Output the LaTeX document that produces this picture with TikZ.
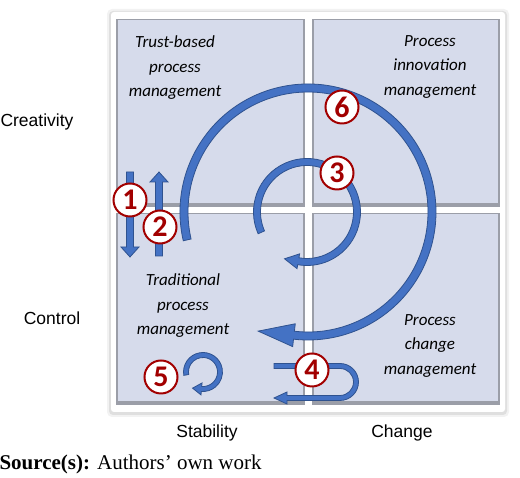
\documentclass[tikz,border=0pt]{standalone}
\usepackage{fontspec}
\newfontfamily\calfont{Carlito}
\newfontfamily\arialfont{Liberation Sans}
\newfontfamily\timesfont{Liberation Serif}
\usetikzlibrary{calc}
\definecolor{panelfill}{RGB}{214,219,235}
\definecolor{paneledge}{RGB}{155,158,168}
\definecolor{arrowfill}{RGB}{68,114,196}
\definecolor{arrowline}{RGB}{47,82,143}
\definecolor{badgered}{RGB}{162,0,0}
\tikzset{
  quadtext/.style={align=center, font=\calfont\itshape\fontsize{17}{24.5}\selectfont},
  axislabel/.style={font=\arialfont\fontsize{17.5}{20}\selectfont},
  badge/.style={circle, draw=badgered, line width=2pt, fill=white, minimum size=33pt,
    inner sep=0pt, text=badgered, font=\calfont\bfseries\fontsize{30}{30}\selectfont},
  bluearrow/.style={fill=arrowfill, draw=arrowline, line width=0.8pt},
}

\begin{document}
\begin{tikzpicture}[x=1pt,y=1pt]
  \useasboundingbox (0,0) rectangle (520,478);
  % frame with soft shadow
  \fill[black, opacity=0.05, rounded corners=5pt] (107,61) rectangle (509,469);
  \fill[black, opacity=0.08, rounded corners=4pt] (109,63) rectangle (507,467);
  \fill[white, rounded corners=3pt] (111,66) rectangle (505,466);
  % quadrants
  \fill[paneledge] (116,271) rectangle (305,459);
  \fill[panelfill] (117.5,275) rectangle (302.5,457.5);
  \fill[paneledge] (312,271) rectangle (500,459);
  \fill[panelfill] (313.5,275) rectangle (497.5,457.5);
  \fill[paneledge] (116,73) rectangle (305,265);
  \fill[panelfill] (117.5,77) rectangle (302.5,263.5);
  \fill[paneledge] (312,73) rectangle (500,265);
  \fill[panelfill] (313.5,77) rectangle (497.5,263.5);

  \node[quadtext] (trust) at (175,410) {Trust-based\\process\\management};
  \node[quadtext] (innov) at (430,411) {Process\\innovation\\management};
  \node[quadtext] (trad) at (183,172) {Traditional\\process\\management};
  \node[quadtext] (chmgmt) at (430,132) {Process\\change\\management};

  \node[axislabel] (creat) at (37,356) {Creativity};
  \node[axislabel] (contr) at (52,160) {Control};
  \node[axislabel] (stab) at (207,45) {Stability};
  \node[axislabel] (chg) at (402,45) {Change};
  \node[anchor=base west, font=\timesfont\fontsize{21}{24}\selectfont] (src) at (-4,8)
    {\textbf{Source(s):} Authors’ own work};

  \coordinate (C) at (308,266);
  \coordinate (C3) at (307,266);
  \coordinate (C5) at (203,106);

  % 1 and 2
  \filldraw[bluearrow] (126.5,306) -- (133.5,306) -- (133.5,231) -- (139,231) -- (130,221)
    -- (121,231) -- (126.5,231) -- cycle;
  \filldraw[bluearrow] (155.5,222) -- (162.5,222) -- (162.5,296) -- (168,296) -- (159,306)
    -- (150,296) -- (155.5,296) -- cycle;
  % 6
  \filldraw[bluearrow] ($(C)+(193:128)$) arc[start angle=193, end angle=-96.5, radius=128]
    -- ($(C)+(-96.5:135.5)$) -- ($(C)+(-96.5:124)+(173.5:36)$) -- ($(C)+(-96.5:112.5)$)
    -- ($(C)+(-96.5:120)$) arc[start angle=-96.5, end angle=193, radius=120] -- cycle;
  % 3
  \filldraw[bluearrow] ($(C3)+(204:53.5)$) arc[start angle=204, end angle=-100, radius=53.5]
    -- ($(C3)+(-100:57.5)$) -- ($(C3)+(-100:50)+(170:14)$) -- ($(C3)+(-100:42.5)$)
    -- ($(C3)+(-100:46.5)$) arc[start angle=-100, end angle=204, radius=46.5] -- cycle;
  % 5
  \filldraw[bluearrow] ($(C5)+(190:19.5)$) arc[start angle=190, end angle=-95, radius=19.5]
    -- ($(C5)+(-95:23)$) -- ($(C5)+(-95:17)+(175:9)$) -- ($(C5)+(-95:11)$)
    -- ($(C5)+(-95:14.5)$) arc[start angle=-95, end angle=190, radius=14.5] -- cycle;
  % 4
  \filldraw[bluearrow] (274,114.5) -- (340,114.5) arc[start angle=90, end angle=-90, radius=18.5]
    -- (287,77.5) -- (287,74) -- (274,80) -- (287,86) -- (287,82.5) -- (340,82.5)
    arc[start angle=-90, end angle=90, radius=13.5] -- (274,109.5) -- cycle;

  \node[badge] (b1) at (130,278) {1};
  \node[badge] (b2) at (160,251) {2};
  \node[badge] (b3) at (337,305) {3};
  \node[badge] (b4) at (312,108) {4};
  \node[badge] (b5) at (161,101) {5};
  \node[badge] (b6) at (342,371) {6};
\end{tikzpicture}
\end{document}
